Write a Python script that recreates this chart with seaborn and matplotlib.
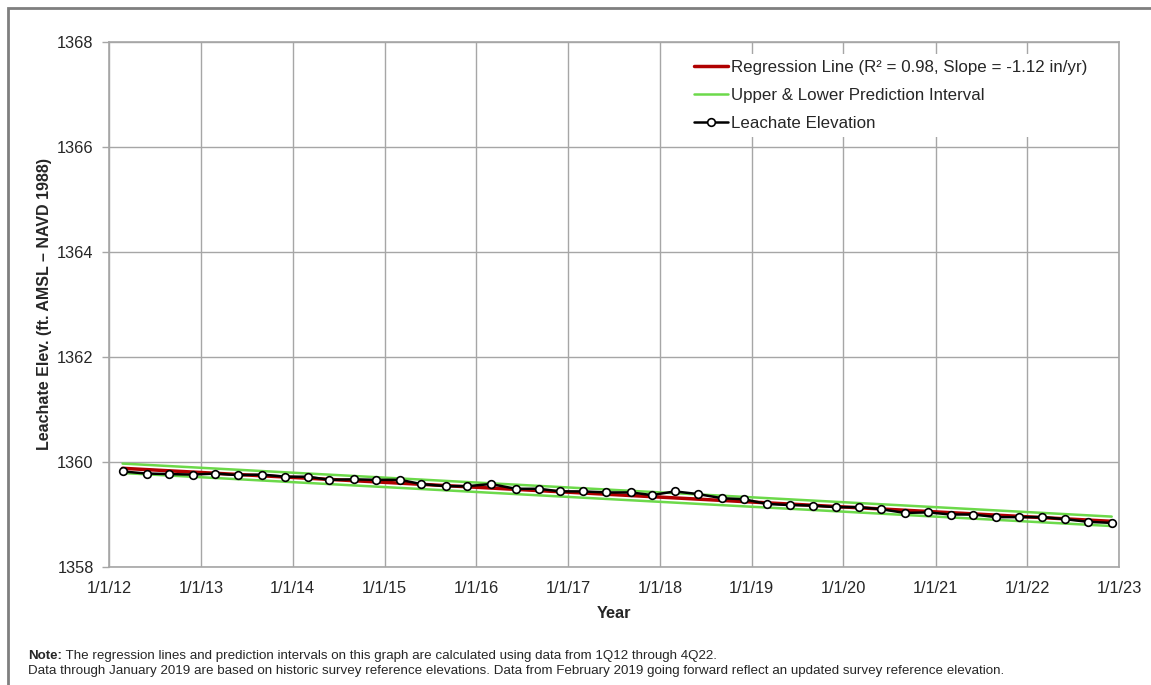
import matplotlib
matplotlib.use("Agg")
import matplotlib.pyplot as plt
import matplotlib.dates as mdates
from matplotlib.ticker import FuncFormatter
from matplotlib.patches import Rectangle
import seaborn as sns
import pandas as pd

# ---------------- data ----------------
sample_dates = [
    "2012-02-24", "2012-05-30", "2012-08-28", "2012-11-29",
    "2013-02-27", "2013-05-28", "2013-09-02", "2013-12-03",
    "2014-03-04", "2014-05-27", "2014-09-02", "2014-11-29",
    "2015-03-04", "2015-05-27", "2015-09-01", "2015-11-27",
    "2016-02-28", "2016-06-06", "2016-09-07", "2016-11-30",
    "2017-03-01", "2017-06-01", "2017-09-07", "2017-11-30",
    "2018-03-01", "2018-05-31", "2018-09-05", "2018-12-01",
    "2019-03-04", "2019-06-02", "2019-09-03", "2019-12-02",
    "2020-03-03", "2020-05-31", "2020-09-01", "2020-12-02",
    "2021-03-03", "2021-05-31", "2021-08-31", "2021-11-29",
    "2022-03-02", "2022-06-02", "2022-09-01", "2022-12-03",
]
leachate_elev = [
    1359.82, 1359.78, 1359.77, 1359.76,
    1359.78, 1359.75, 1359.76, 1359.72,
    1359.72, 1359.66, 1359.67, 1359.66,
    1359.66, 1359.58, 1359.54, 1359.54,
    1359.58, 1359.49, 1359.49, 1359.44,
    1359.44, 1359.42, 1359.42, 1359.37,
    1359.44, 1359.39, 1359.31, 1359.29,
    1359.20, 1359.18, 1359.17, 1359.14,
    1359.14, 1359.10, 1359.03, 1359.04,
    1359.00, 1359.00, 1358.95, 1358.95,
    1358.95, 1358.91, 1358.86, 1358.84,
]
line_dates = ["2012-02-24", "2022-12-03"]
regression_vals = [1359.88, 1358.87]
upper_pi_vals = [1359.97, 1358.96]
lower_pi_vals = [1359.79, 1358.78]

year_ticks = [f"{y}-01-01" for y in range(2012, 2024)]
y_ticks = [1358, 1360, 1362, 1364, 1366, 1368]

labels = {
    "reg": "Regression Line (R\u00b2 = 0.98, Slope = -1.12 in/yr)",
    "pi": "Upper & Lower Prediction Interval",
    "obs": "Leachate Elevation",
}
note_line1_bold = "Note:"
note_line1 = " The regression lines and prediction intervals on this graph are calculated using data from 1Q12 through 4Q22."
note_line2 = ("Data through January 2019 are based on historic survey reference elevations. "
              "Data from February 2019 going forward reflect an updated survey reference elevation.")

# ---------------- frames ----------------
obs = pd.DataFrame({"date": pd.to_datetime(sample_dates), "elev": leachate_elev})
lines = pd.DataFrame({
    "date": pd.to_datetime(line_dates),
    "reg": regression_vals,
    "upper": upper_pi_vals,
    "lower": lower_pi_vals,
})

# ---------------- style ----------------
sns.set_style("white")
plt.rcParams["font.family"] = ["Liberation Sans", "DejaVu Sans"]
plt.rcParams["font.size"] = 11

W, H = 1151, 685
fig = plt.figure(figsize=(W / 100, H / 100), dpi=100)
ax = fig.add_axes([109 / W, 1 - 567 / H, (1119 - 109) / W, (567 - 42) / H])

GRID = "#a6a6a6"
GREEN = "#6cd94a"
RED = "#b00000"

sns.lineplot(data=lines, x="date", y="upper", ax=ax, color=GREEN, lw=1.8,
             label=labels["pi"], zorder=3)
sns.lineplot(data=lines, x="date", y="lower", ax=ax, color=GREEN, lw=1.8,
             label="_nolegend_", zorder=3)
sns.lineplot(data=lines, x="date", y="reg", ax=ax, color=RED, lw=2.5,
             label=labels["reg"], zorder=4)
sns.lineplot(data=obs, x="date", y="elev", ax=ax, color="black", lw=1.8,
             marker="o", markersize=5.5, markerfacecolor="white",
             markeredgecolor="black", markeredgewidth=1.2,
             label=labels["obs"], zorder=5)

# axes
ax.set_xlim(pd.Timestamp(year_ticks[0]), pd.Timestamp(year_ticks[-1]))
ax.set_ylim(y_ticks[0], y_ticks[-1])
ax.set_xticks(pd.to_datetime(year_ticks))
ax.xaxis.set_major_formatter(FuncFormatter(
    lambda v, p: (lambda d: f"{d.month}/{d.day}/{d:%y}")(mdates.num2date(v))))
ax.set_yticks(y_ticks)
ax.grid(True, color=GRID, lw=1.0)
ax.set_axisbelow(True)
for s in ax.spines.values():
    s.set_color(GRID)
    s.set_linewidth(1.2)
ax.tick_params(axis="y", which="major", length=5, width=1, color=GRID,
               pad=6, labelsize=11.8, left=True)
ax.tick_params(axis="x", which="major", length=0, pad=10, labelsize=11.8)

ax.set_xlabel("Year", fontsize=11.8, fontweight="bold", labelpad=7)
ax.set_ylabel("Leachate Elev. (ft. AMSL \u2013 NAVD 1988)", fontsize=11.5,
              fontweight="bold", labelpad=4)

# legend order
handles, labs = ax.get_legend_handles_labels()
order = [labels["reg"], labels["pi"], labels["obs"]]
hmap = dict(zip(labs, handles))
leg = ax.legend([hmap[k] for k in order], order, loc="upper left",
                bbox_to_anchor=((688 - 109) / 1010, (567 - 54) / 525),
                frameon=True, fancybox=False, framealpha=1, facecolor="white",
                edgecolor="none", fontsize=12.2, handlelength=2.0,
                handletextpad=0.2, labelspacing=0.76, borderpad=0.35,
                borderaxespad=0)

# outer frame (top and left visible)
fig.patches.append(Rectangle((8 / W, -0.1), 1.2, 1 - 8 / H + 0.1,
                             transform=fig.transFigure, fill=False,
                             edgecolor="#7f7f7f", lw=2, clip_on=False))

# note text
NOTE_FS = 9.6
t1 = fig.text(28 / W, 1 - 656 / H, note_line1_bold, fontsize=NOTE_FS,
              fontweight="bold", va="center", ha="left")
fig.canvas.draw()
bb = t1.get_window_extent()
fig.text(bb.x1 / W, 1 - 656 / H, note_line1, fontsize=NOTE_FS, va="center", ha="left")
fig.text(28 / W, 1 - 671 / H, note_line2, fontsize=NOTE_FS, va="center", ha="left")

fig.savefig("out.png", dpi=100)
